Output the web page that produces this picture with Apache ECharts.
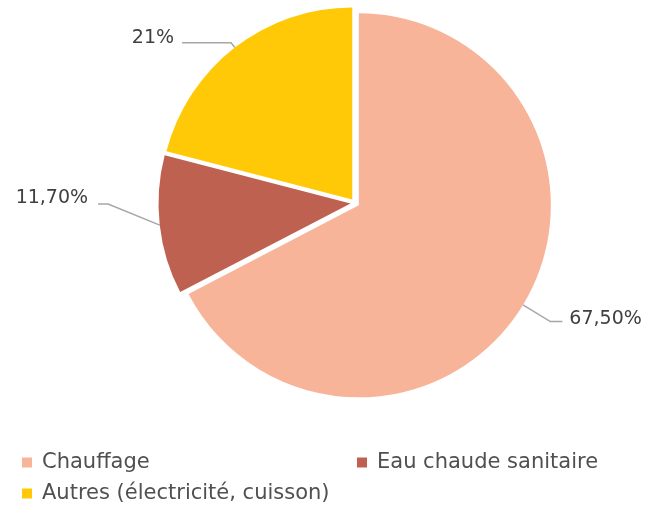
<!DOCTYPE html>
<html>
<head>
<meta charset="utf-8">
<script src="https://cdn.jsdelivr.net/npm/echarts@6/dist/echarts.min.js"></script>
<style>
  html, body { margin: 0; padding: 0; background: #ffffff; }
  #chart { width: 649px; height: 505px; }
</style>
</head>
<body>
<div id="chart"></div>
<script>
// Répartition des consommations d'énergie (%)
const categories = ['Chauffage', 'Eau chaude sanitaire', 'Autres (électricité, cuisson)'];
const shares = [67.5, 11.7, 21];
const colors = ['#F7B499', '#BF6150', '#FFC908'];

// 67.5 -> "67,50%", 21 -> "21%"
function formatShare(v) {
  const s = Number.isInteger(v) ? String(v) : v.toFixed(2);
  return s.replace('.', ',') + '%';
}

const FONT = '"DejaVu Sans", sans-serif';

// one legend entry per block, laid out in two columns
const legendSlots = [
  { left: 17, top: 447 },
  { left: 352, top: 447 },
  { left: 17, top: 478 }
];

const legends = categories.map((name, i) => ({
  left: legendSlots[i].left,
  top: legendSlots[i].top,
  itemWidth: 10,
  itemHeight: 10,
  icon: 'rect',
  selectedMode: false,
  textStyle: {
    fontFamily: FONT,
    fontSize: 21,
    lineHeight: 20,
    color: '#505050',
    padding: [0, 0, 0, 5]
  },
  data: [name]
}));

const chart = echarts.init(document.getElementById('chart'), null, { renderer: 'canvas' });

chart.setOption({
  animation: false,
  backgroundColor: '#ffffff',
  legend: legends,
  series: [{
    type: 'pie',
    center: [355, 203],
    radius: 192,
    startAngle: 90,
    clockwise: true,
    avoidLabelOverlap: false,
    selectedMode: 'multiple',
    selectedOffset: 4.5,
    emphasis: { disabled: true },
    label: {
      show: true,
      position: 'outside',
      fontFamily: FONT,
      fontSize: 19,
      color: '#404040',
      formatter: p => formatShare(p.value)
    },
    labelLine: {
      show: true,
      length: 32,
      length2: 12,
      lineStyle: { color: '#A6A6A6', width: 1.5 }
    },
    // the small slice's callout bends upward before turning horizontal
    labelLayout: p => {
      const pts = p.labelLinePoints;
      if (p.dataIndex === 1 && pts) {
        const lift = -27;
        return {
          dx: -5,
          dy: -33,
          labelLinePoints: [pts[0], [pts[1][0], pts[1][1] + lift], [pts[2][0], pts[2][1] + lift]]
        };
      }
      if (p.dataIndex === 2) return { dx: -3, dy: -5 };
      if (p.dataIndex === 0) return { dx: 2, dy: -3 };
      return {};
    },
    data: categories.map((name, i) => ({
      name,
      value: shares[i],
      selected: true,
      itemStyle: { color: colors[i] },
      select: { itemStyle: { color: colors[i] } },
      labelLine: i === 2 ? { length: 6, length2: 49 } : (i === 1 ? { length: 52, length2: 10 } : undefined)
    }))
  }]
});
</script>
</body>
</html>
